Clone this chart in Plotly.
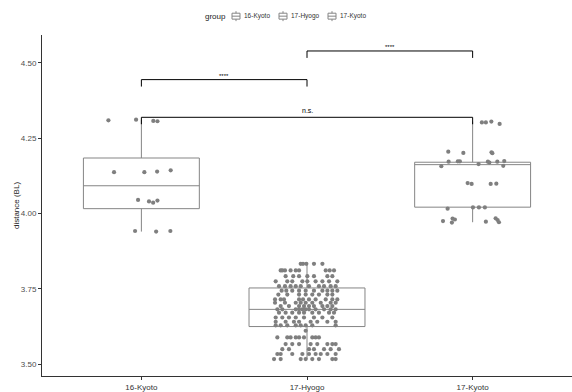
import plotly.graph_objects as go

# ---- data -------------------------------------------------------------
groups = ["16-Kyoto", "17-Hyogo", "17-Kyoto"]
group_pos = [1, 2, 3]

# box-plot summaries (distance in body lengths)
box_q1 = [4.016, 3.625, 4.021]
box_median = [4.092, 3.682, 4.162]
box_q3 = [4.184, 3.753, 4.170]
box_lower = [3.940, 3.517, 3.971]
box_upper = [4.311, 3.833, 4.305]

# jittered observations: horizontal offset from the group centre, and value
kyoto16_offset = [-0.199, -0.032, 0.072, 0.097, -0.165, 0.018, 0.095, 0.177,
                  -0.020, 0.046, 0.071, 0.097, -0.038, 0.089, 0.175]
kyoto16_value = [4.309, 4.311, 4.307, 4.306, 4.137, 4.137, 4.139, 4.143,
                 4.045, 4.040, 4.036, 4.043, 3.942, 3.940, 3.942]

kyoto17_offset = [0.056, 0.080, 0.113, 0.163, -0.147, -0.056, 0.114, 0.119,
                  -0.145, -0.089, -0.077, 0.036, 0.092, 0.101, 0.149, 0.191,
                  -0.189, 0.185, -0.030, -0.006, 0.109, 0.143, -0.151, 0.002,
                  0.038, 0.074, -0.179, -0.121, -0.107, -0.125, 0.080, 0.139,
                  0.151, 0.159]
kyoto17_value = [4.302, 4.302, 4.305, 4.297, 4.205, 4.201, 4.203, 4.200,
                 4.172, 4.173, 4.173, 4.164, 4.172, 4.169, 4.172, 4.174,
                 4.157, 4.158, 4.101, 4.098, 4.098, 4.099, 4.016, 4.020,
                 4.020, 4.020, 3.975, 3.983, 3.980, 3.970, 3.973, 3.984,
                 3.978, 3.971]

# 17-Hyogo: value -> offsets of the observations at that value
hyogo_rows = [
    (3.833, [-0.038, -0.024, -0.004, 0.042, 0.093]),
    (3.811, [-0.159, -0.149, -0.133, -0.099, -0.068, -0.048, 0.113, 0.137, 0.163]),
    (3.792, [-0.129, -0.083, -0.048, 0.002, 0.042, 0.123, 0.153]),
    (3.775, [-0.189, -0.119, -0.089, -0.028, 0.002, 0.052, 0.093, 0.133, 0.183]),
    (3.759, [-0.169, -0.133, -0.099, -0.068, -0.038, 0.012, 0.072, 0.103, 0.143, 0.173]),
    (3.744, [-0.153, -0.125, -0.089, -0.048, -0.008, 0.042, 0.093, 0.123, 0.153, 0.183]),
    (3.731, [-0.173, -0.119, -0.048, -0.008, 0.032, 0.072, 0.123, 0.153]),
    (3.715, [-0.193, -0.159, -0.139, -0.048, -0.024, 0.012, 0.052, 0.113, 0.153, 0.183]),
    (3.704, [-0.193, -0.133, -0.068, -0.038, -0.008, 0.032, 0.083, 0.143, 0.173]),
    (3.693, [-0.159, -0.109, -0.048, -0.018, 0.012, 0.042, 0.093, 0.123, 0.153]),
    (3.682, [-0.179, -0.149, -0.068, -0.048, -0.028, -0.008, 0.012, 0.052, 0.103, 0.143, 0.173]),
    (3.671, [-0.169, -0.129, -0.089, -0.048, -0.018, 0.032, 0.072, 0.133, 0.163]),
    (3.655, [-0.189, -0.149, -0.109, -0.068, -0.018, 0.042, 0.093, 0.153]),
    (3.641, [-0.189, -0.129, -0.079, -0.048, 0.022, 0.062, 0.123, 0.173]),
    (3.629, [-0.189, -0.159, -0.119, -0.068, -0.038, -0.008, 0.032, 0.173]),
    (3.611, [-0.008]),
    (3.589, [-0.179, -0.119, -0.099, -0.068, -0.048, -0.018, 0.032, 0.052, 0.072]),
    (3.567, [-0.129, -0.089, -0.048, 0.022, 0.062, 0.123, 0.153, 0.173]),
    (3.550, [-0.149, -0.109, 0.012, 0.042, 0.103, 0.143, 0.193]),
    (3.534, [-0.179, -0.159, -0.089, -0.028, 0.012, 0.052, 0.083, 0.123, 0.173]),
    (3.517, [-0.199, -0.159, -0.038, -0.008, 0.032, 0.072, 0.153, 0.173]),
]

# pairwise comparisons: (group a, group b, bracket height, label)
comparisons = [
    (1, 2, 4.444, "****"),
    (2, 3, 4.539, "****"),
    (1, 3, 4.319, "n.s."),
]
bracket_drop = 0.023

y_ticks = [3.50, 3.75, 4.00, 4.25, 4.50]
legend_title = "group"

# ---- styling ----------------------------------------------------------
POINT = "#7f7f7f"
BOXLINE = "#858585"
AXIS = "#333333"
FONT = "Liberation Sans, Arial, sans-serif"

W, H = 572, 392
M = dict(l=42, r=0, t=35, b=13)
PLOT_W = W - M["l"] - M["r"]
PLOT_H = H - M["t"] - M["b"]


def paper_x(px):
    return (px - M["l"]) / PLOT_W


def paper_y(py):
    return (H - M["b"] - py) / PLOT_H


fig = go.Figure()

for i, g in enumerate(groups):
    fig.add_trace(go.Box(
        x=[group_pos[i]], q1=[box_q1[i]], median=[box_median[i]], q3=[box_q3[i]],
        lowerfence=[box_lower[i]], upperfence=[box_upper[i]],
        name=g, width=0.7, whiskerwidth=0, boxpoints=False,
        fillcolor="white", line=dict(color=BOXLINE, width=1),
        showlegend=False, hoverinfo="skip",
    ))

hy_x, hy_y = [], []
for val, offs in hyogo_rows:
    for o in offs:
        hy_x.append(2 + o)
        hy_y.append(val)

point_sets = [
    ([1 + o for o in kyoto16_offset], kyoto16_value),
    (hy_x, hy_y),
    ([3 + o for o in kyoto17_offset], kyoto17_value),
]
for xs, ys in point_sets:
    fig.add_trace(go.Scatter(
        x=xs, y=ys, mode="markers",
        marker=dict(color=POINT, size=4.2, line=dict(width=0)),
        showlegend=False, hoverinfo="skip",
    ))

# significance brackets
for a, b, h, label in comparisons:
    fig.add_trace(go.Scatter(
        x=[a, a, b, b], y=[h - bracket_drop, h, h, h - bracket_drop],
        mode="lines", line=dict(color="black", width=1),
        showlegend=False, hoverinfo="skip",
    ))
    fig.add_annotation(
        x=(a + b) / 2, y=h, text=label, showarrow=False,
        yanchor="bottom", yshift=1 if label == "n.s." else -1,
        font=dict(family=FONT, size=7 if label == "n.s." else 6, color="black"),
    )

# legend row: title, then a small box-plot key and label per group
LEG_Y = 16
fig.add_annotation(
    xref="paper", yref="paper", x=paper_x(228), y=paper_y(LEG_Y),
    xanchor="right", yanchor="middle", text=legend_title, showarrow=False,
    font=dict(family=FONT, size=8, color="#222222"),
)
key_centres = [236, 283, 332]
for g, cx in zip(groups, key_centres):
    line = dict(color=BOXLINE, width=1)
    fig.add_shape(type="rect", xref="paper", yref="paper",
                  x0=paper_x(cx - 4), x1=paper_x(cx + 4),
                  y0=paper_y(LEG_Y + 3), y1=paper_y(LEG_Y - 3),
                  line=line, fillcolor="white")
    fig.add_shape(type="line", xref="paper", yref="paper",
                  x0=paper_x(cx - 4), x1=paper_x(cx + 4),
                  y0=paper_y(LEG_Y), y1=paper_y(LEG_Y), line=line)
    fig.add_shape(type="line", xref="paper", yref="paper",
                  x0=paper_x(cx), x1=paper_x(cx),
                  y0=paper_y(LEG_Y - 3), y1=paper_y(LEG_Y - 5), line=line)
    fig.add_shape(type="line", xref="paper", yref="paper",
                  x0=paper_x(cx), x1=paper_x(cx),
                  y0=paper_y(LEG_Y + 3), y1=paper_y(LEG_Y + 5), line=line)
    fig.add_annotation(
        xref="paper", yref="paper", x=paper_x(cx + 6), y=paper_y(LEG_Y),
        xanchor="left", yanchor="middle", text=g, showarrow=False,
        font=dict(family=FONT, size=6.5, color="#333333"),
    )

fig.update_layout(
    width=W, height=H, margin=M,
    paper_bgcolor="white", plot_bgcolor="white",
    font=dict(family=FONT, size=8, color="#4d4d4d"),
    boxmode="overlay", showlegend=False,
    xaxis=dict(
        range=[0.4, 3.6], tickvals=group_pos, ticktext=groups,
        showline=True, linecolor=AXIS, linewidth=1,
        ticks="outside", ticklen=3, tickcolor=AXIS, tickwidth=1,
        showgrid=False, zeroline=False,
        tickfont=dict(size=8, color="#333333"),
    ),
    yaxis=dict(
        range=[3.461, 4.592], tickvals=y_ticks,
        ticktext=[f"{t:.2f}" for t in y_ticks],
        showline=True, linecolor=AXIS, linewidth=1,
        ticks="outside", ticklen=3, tickcolor=AXIS, tickwidth=1,
        showgrid=False, zeroline=False,
        tickfont=dict(size=8, color="#4d4d4d"),
        title=dict(text="distance (BL)", standoff=0,
                   font=dict(size=8, color="#222222")),
        automargin=False,
    ),
)

fig.write_html("out.html")
